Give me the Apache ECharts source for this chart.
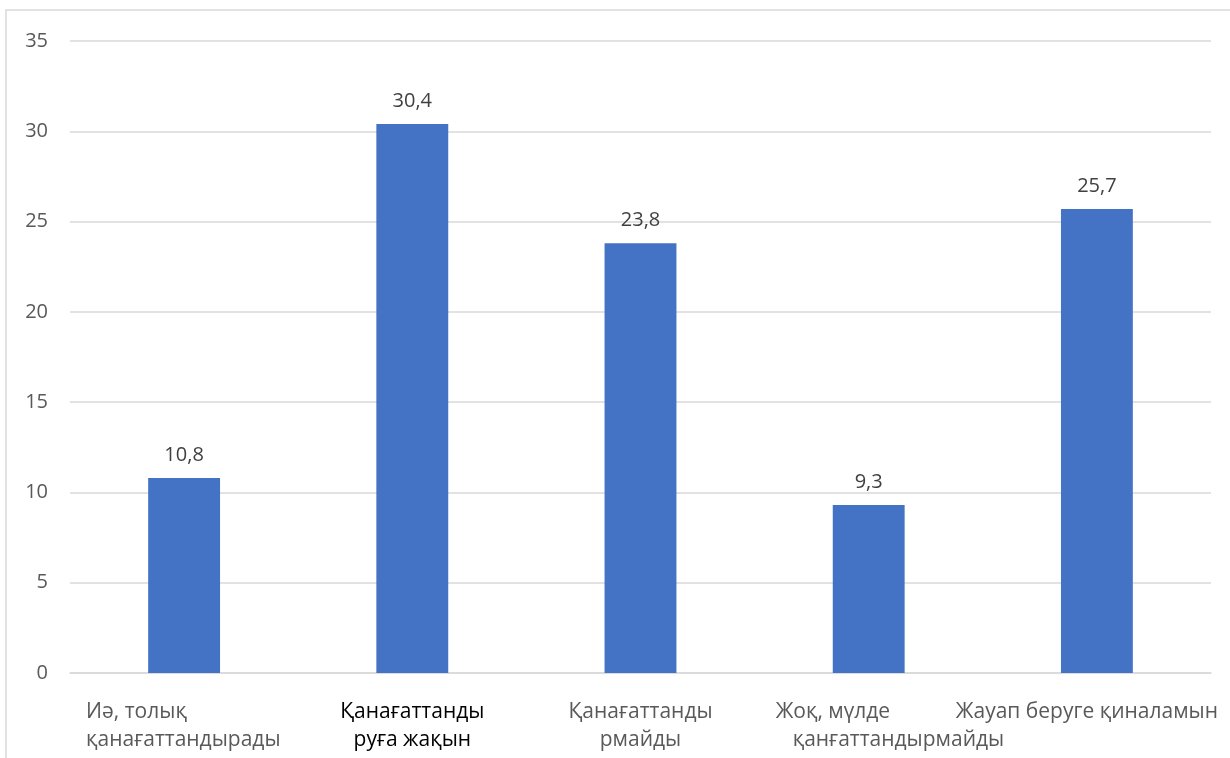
<!DOCTYPE html>
<html>
<head>
<meta charset="utf-8">
<script src="https://cdn.jsdelivr.net/npm/echarts@6/dist/echarts.min.js"></script>
<style>
html,body{margin:0;padding:0;background:#fff;}
#c{width:1230px;height:758px;}
</style>
</head>
<body>
<div id="c"></div>
<script>
// ---- data ----
var categories = [
  'Иә, толық\nқанағаттандырады',
  'Қанағаттанды\nруға жақын',
  'Қанағаттанды\nрмайды',
  'Жоқ, мүлде\nқанғаттандырмайды',
  'Жауап беруге қиналамын'
];
var values = [10.8, 30.4, 23.8, 9.3, 25.7];
var yTicks = [0, 5, 10, 15, 20, 25, 30, 35];

// ---- layout (not data) ----
var FONT = '"Open Sans", "Noto Sans", sans-serif';
var FS = 20;
var CAT_FS = 21;
// per-label layout: line alignment, x offset of each line relative to the tick, colour
var labelLayout = [
  {lineAlign: 'left', lineDx: [-98, -98], color: '#595959'},
  {lineAlign: 'center', lineDx: [0, 0], color: '#000000'},
  {lineAlign: 'center', lineDx: [0, 0], color: '#595959'},
  {lineAlign: 'left', lineDx: [-93, -76], color: '#595959'},
  {lineAlign: 'center', lineDx: [-10, -10], color: '#595959'}
];

var chart = echarts.init(document.getElementById('c'), null, {renderer: 'canvas'});
var option = {
  animation: false,
  backgroundColor: '#ffffff',
  grid: {left: 70, right: 19, top: 41, bottom: 85, containLabel: false},
  xAxis: {
    type: 'category',
    data: categories,
    axisLine: {show: true, lineStyle: {color: '#d9d9d9', width: 1.5}},
    axisTick: {show: false},
    axisLabel: {show: false}
  },
  yAxis: {
    type: 'value',
    min: yTicks[0],
    max: yTicks[yTicks.length - 1],
    interval: yTicks[1] - yTicks[0],
    axisLine: {show: false},
    axisTick: {show: false},
    splitLine: {lineStyle: {color: '#d9d9d9', width: 1.5}},
    axisLabel: {
      color: '#595959',
      fontFamily: FONT,
      fontSize: FS,
      margin: 22,
      formatter: function (v) { return String(v); }
    }
  },
  series: [{
    type: 'bar',
    data: values,
    barWidth: '31.5%',
    itemStyle: {color: '#4472C4'},
    label: {
      show: true,
      position: 'top',
      distance: 13,
      color: '#404040',
      fontFamily: FONT,
      fontSize: FS,
      formatter: function (p) { return String(p.value).replace('.', ','); }
    }
  }]
};
chart.setOption(option);

// category labels placed at axis positions computed by the library
var elements = [
  {type: 'rect', shape: {x: 6, y: 10, width: 1300, height: 800}, style: {fill: 'none', stroke: '#d9d9d9', lineWidth: 1.5}, z: -1, silent: true}
];
var baseY = chart.convertToPixel({yAxisIndex: 0}, 0);
categories.forEach(function (cat, i) {
  var cx = chart.convertToPixel({xAxisIndex: 0}, i);
  var L = labelLayout[i];
  var lines = cat.split('\n');
  var lineH = 28;
  lines.forEach(function (ln, j) {
    elements.push({
      type: 'text',
      x: cx + L.lineDx[j],
      y: baseY + 39 + j * lineH,
      style: {
        text: ln,
        fill: L.color,
        font: CAT_FS + 'px ' + FONT,
        align: L.lineAlign,
        verticalAlign: 'middle'
      },
      silent: true
    });
  });
});
chart.setOption({graphic: {elements: elements}});
</script>
</body>
</html>
